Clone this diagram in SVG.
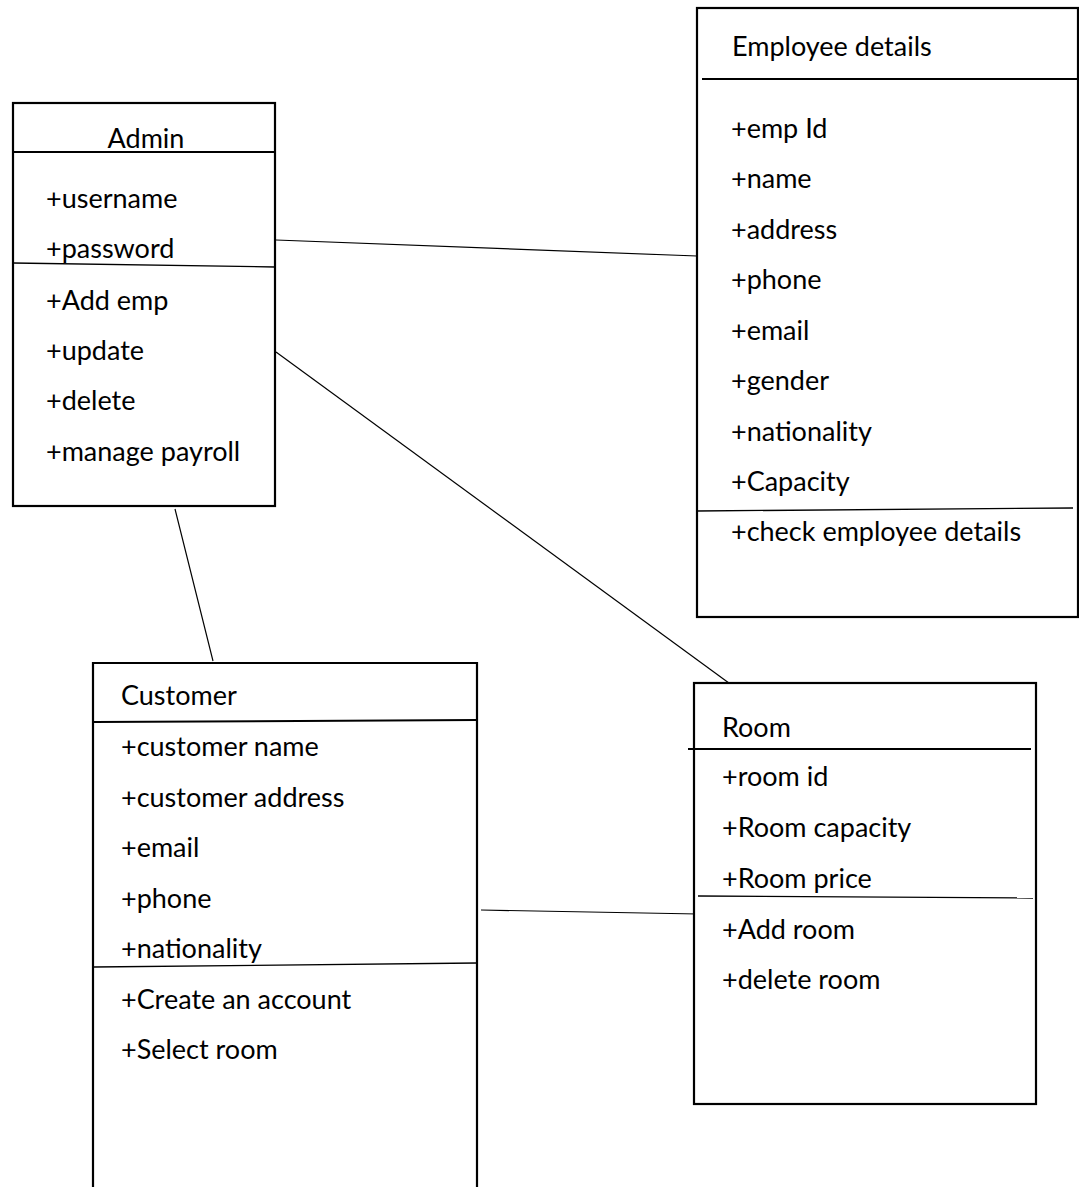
<svg xmlns="http://www.w3.org/2000/svg" width="1079" height="1187" viewBox="0 0 1079 1187">
<style>
.box{fill:#fff;stroke:#000;stroke-width:2.2}
.div{stroke:#000;stroke-width:1.3;fill:none}
.hdr{stroke:#000;stroke-width:2;fill:none}
.con{stroke:#000;stroke-width:1.2;fill:none}
text{font-family:Lato,"Liberation Sans",sans-serif;font-size:27px;fill:#000}
</style>
<rect width="1079" height="1187" fill="#fff"/>
<g id="connectors">
<line class="con" x1="276" y1="240" x2="697" y2="256"/>
<line class="con" x1="276" y1="352" x2="733" y2="686"/>
<line class="con" x1="175" y1="509" x2="213" y2="661"/>
<line class="con" x1="481" y1="910" x2="698" y2="914"/>
</g>
<g id="admin">
<rect class="box" x="13" y="103" width="262" height="403"/>
<line class="hdr" x1="13" y1="152" x2="275" y2="152"/>
<text x="146" y="148" text-anchor="middle">Admin</text>
<text x="46" y="208">+username</text>
<text x="46" y="258">+password</text>
<line class="div" x1="13" y1="263" x2="275" y2="267"/>
<text x="46" y="310">+Add emp</text>
<text x="46" y="360">+update</text>
<text x="46" y="410">+delete</text>
<text x="46" y="461">+manage payroll</text>
</g>
<g id="employee">
<rect class="box" x="697" y="8" width="381" height="609"/>
<line class="hdr" x1="702" y1="79" x2="1078" y2="79"/>
<text x="732" y="56">Employee details</text>
<text x="731" y="138">+emp Id</text>
<text x="731" y="188">+name</text>
<text x="731" y="239">+address</text>
<text x="731" y="289">+phone</text>
<text x="731" y="340">+email</text>
<text x="731" y="390">+gender</text>
<text x="731" y="441">+nationality</text>
<text x="731" y="491">+Capacity</text>
<line class="div" x1="697" y1="511" x2="1073" y2="508"/>
<text x="731" y="541">+check employee details</text>
</g>
<g id="customer">
<path class="box" d="M93,1190 V663 H477 V1190"/>
<line class="hdr" x1="94" y1="722" x2="477" y2="720"/>
<text x="121" y="705">Customer</text>
<text x="121" y="756">+customer name</text>
<text x="121" y="807">+customer address</text>
<text x="121" y="857">+email</text>
<text x="121" y="908">+phone</text>
<text x="121" y="958">+nationality</text>
<line class="div" x1="94" y1="967" x2="477" y2="963"/>
<text x="121" y="1009">+Create an account</text>
<text x="121" y="1059">+Select room</text>
</g>
<g id="room">
<rect class="box" x="694" y="683" width="342" height="421"/>
<line class="hdr" x1="688" y1="749" x2="1031" y2="749"/>
<text x="722" y="737">Room</text>
<text x="722" y="786">+room id</text>
<text x="722" y="837">+Room capacity</text>
<text x="722" y="888">+Room price</text>
<line class="div" x1="698" y1="896" x2="1033" y2="898"/>
<text x="722" y="939">+Add room</text>
<text x="722" y="989">+delete room</text>
</g>
</svg>
